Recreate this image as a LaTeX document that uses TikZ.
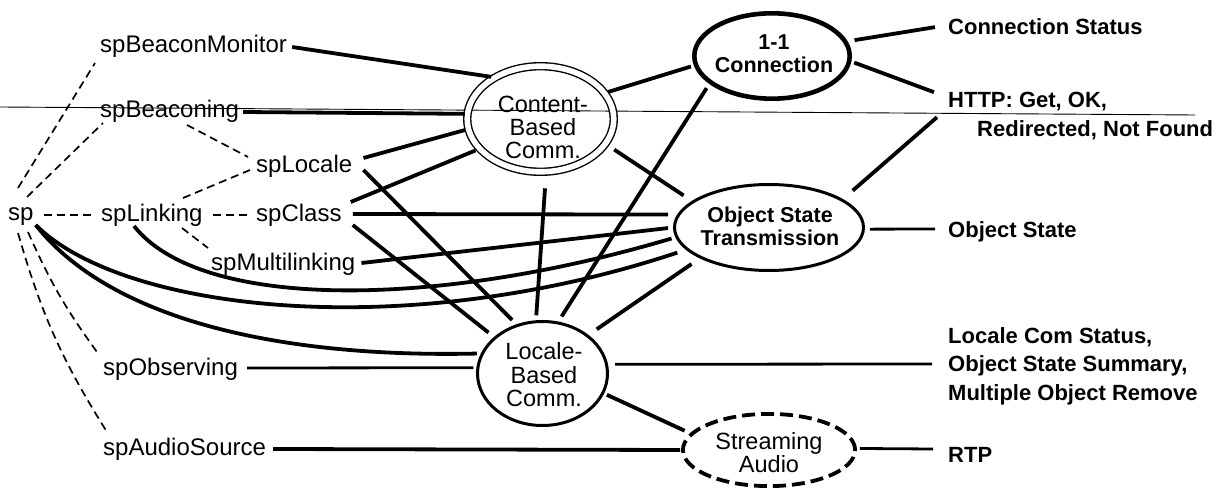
\documentclass[tikz,border=0pt]{standalone}
\usepackage{fontspec}
\setmainfont{Liberation Sans}
\usetikzlibrary{shapes.geometric}
\begin{document}
\begin{tikzpicture}[x=1pt,y=-1pt,
  lbl/.style={inner sep=0pt, anchor=base west, font=\fontsize{24}{28}\selectfont},
  outlbl/.style={inner sep=0pt, font=\bfseries\fontsize{22}{29}\selectfont},
  hubtxt/.style={inner sep=0pt, align=center, font=\fontsize{23.5}{23}\selectfont},
  hubbold/.style={inner sep=0pt, align=center, font=\bfseries\fontsize{21.5}{23}\selectfont},
  hub/.style={ellipse, draw, inner sep=0pt},
  conn/.style={line width=3.8pt},
  connthin/.style={line width=2.8pt},
  dep/.style={line width=1.7pt, dash pattern=on 8pt off 5pt},
]
\useasboundingbox (0,0) rectangle (1218,494);
\fill[white] (0,0) rectangle (1218,494);

% thin rule running across the sheet
\draw[line width=0.9pt] (0,107) -- (1195,115);

% ---- class labels (left)
\node[lbl] (sp)  at (8,221)   {sp};
\node[lbl] (bm)  at (100,53)  {spBeaconMonitor};
\node[lbl] (bg)  at (100,118) {spBeaconing};
\node[lbl] (spl) at (256,173) {spLocale};
\node[lbl] (lk)  at (101,222) {spLinking};
\node[lbl] (cl)  at (256,222) {spClass};
\node[lbl] (ml)  at (211,271) {spMultilinking};
\node[lbl] (ob)  at (103,375) {spObserving};
\node[lbl] (as)  at (103,455) {spAudioSource};

% ---- communication modes (ellipses)
\node[hub, line width=1.4pt, double, double distance=5.6pt,
      minimum width=146.6pt, minimum height=105.6pt] (cb) at (540.5,119) {};
\node[hub, line width=4.6pt, minimum width=155.4pt, minimum height=85.4pt] (oc) at (772,56) {};
\node[hub, line width=3pt, minimum width=189pt, minimum height=86pt] (os) at (769,227.5) {};
\node[hub, line width=3pt, minimum width=130pt, minimum height=104pt] (lb) at (542.5,373.5) {};
\node[hub, line width=3.8pt, dash pattern=on 13pt off 6pt,
      minimum width=172.2pt, minimum height=72.2pt] (sa) at (769,450) {};

\node[hubtxt]  (cbt) at (543,127)   {Content-\\Based\\Comm.};
\node[hubbold] (oct) at (774,53.8)  {1-1\\Connection};
\node[hubbold] (ostt) at (770,226.6) {Object State\\Transmission};
\node[hubtxt, font=\fontsize{23.5}{23.5}\selectfont] (lbt) at (544,375) {Locale-\\Based\\Comm.};
\node[hubtxt]  (sat) at (769,453)   {Streaming\\Audio};

% ---- protocol messages (right)
\node[outlbl, anchor=base west] (cs) at (948,35) {Connection Status};
\node[outlbl, anchor=north west, align=left] (http) at (948,92.2)
  {HTTP: Get, OK,\\\hspace*{29pt}Redirected, Not Found};
\node[outlbl, anchor=base west] (ost) at (948,238) {Object State};
\node[outlbl, anchor=north west, align=left, font=\bfseries\fontsize{22}{28.5}\selectfont] (lcs) at (948,327)
  {Locale Com Status,\\Object State Summary,\\Multiple Object Remove};
\node[outlbl, anchor=base west] (rtp) at (948,462) {RTP};

% ---- class hierarchy (dashed)
\draw[dep] ([shift={(10,-33)}]sp.base west) -- ([shift={(-5,10)}]bm.base west);
\draw[dep] ([shift={(19,-24)}]sp.base west) -- ([shift={(3,5)}]bg.base west);
\draw[dep] ([shift={(10,-6)}]sp.base east) -- ([shift={(-6,-7)}]lk.base west);
\draw[dep] ([shift={(10,-7)}]lk.base east) -- ([shift={(-8,-7)}]cl.base west);
\draw[dep] ([shift={(87,7)}]bg.base west) -- ([shift={(-8,-16)}]spl.base west);
\draw[dep] ([shift={(82,-24)}]lk.base west) -- ([shift={(-6,-3)}]spl.base west);
\draw[dep] ([shift={(81,6)}]lk.base west) -- ([shift={(-3,-23)}]ml.base west);
\draw[dep] ([shift={(20,11)}]sp.base west) to[bend right=6] ([shift={(-6,-23)}]ob.base west);
\draw[dep] ([shift={(10,12)}]sp.base west) to[bend right=8] ([shift={(4,-23)}]as.base west);

% ---- classes to Content-Based
\draw[conn, shorten >=3pt] ([shift={(5,-6)}]bm.base east) -- (cb.138);
\draw[conn, shorten >=2pt] ([shift={(4,-6)}]bg.base east) -- (cb.176);
\draw[conn, shorten >=3pt] ([shift={(11,-15)}]spl.base east) -- (cb.188);
\draw[conn, shorten >=4pt] ([shift={(9,-20)}]cl.base east) -- (cb.206);

% ---- classes to Locale-Based
\draw[conn, shorten >=6pt] ([shift={(11,-3)}]spl.base east) -- (lb.118);
\draw[conn, shorten >=7pt] ([shift={(11,3)}]cl.base east) -- (lb.143);
\draw[conn, shorten >=4pt] ([shift={(2,4)}]sp.base east) .. controls +(75,95) and +(-201,4.5) .. (lb.162);
\draw[connthin, shorten >=3pt] ([shift={(9,-7)}]ob.base east) -- (lb.175);

% ---- classes to Object State Transmission
\draw[conn, shorten >=9pt] ([shift={(11,-8)}]cl.base east) -- (os.172);
\draw[conn, shorten >=5pt] ([shift={(6,-8)}]ml.base east) -- (os.180);
\draw[conn, shorten >=4pt] ([shift={(33,4)}]lk.base west) .. controls +(66,84) and +(-242,72) .. (os.186);
\draw[conn, shorten >=9pt] ([shift={(2,4)}]sp.base east) .. controls +(85,85) and +(-286,95) .. (os.195);

% ---- between modes
\draw[conn, shorten <=10pt, shorten >=10pt] (cb.-21) -- (os.161);
\draw[conn, shorten <=10pt, shorten >=10pt] (lb.40) -- (os.204);
\draw[conn, shorten <=3pt, shorten >=3pt] (cb.22) -- (oc.187);
\draw[conn, shorten <=6pt, shorten >=5pt] (lb.73) -- (oc.204);
\draw[conn, shorten <=16pt, shorten >=5pt] (cb.276) -- (lb.97);
\draw[conn, shorten <=3pt, shorten >=6pt] (lb.-18) -- (sa.168);
\draw[conn, shorten >=1pt] ([shift={(7,-6)}]as.base east) -- (sa.180);

% ---- modes to messages
\draw[conn, shorten <=7pt] (oc.11) -- ([xshift=-13pt]cs.west);
\draw[conn, shorten <=3pt] (oc.-4) -- ([shift={(-14,0)}]http.north west);
\draw[conn, shorten <=13pt] (os.21) -- ([shift={(-11,25)}]http.north west);
\draw[connthin, shorten <=5pt] (os.-1) -- ([shift={(-13,-9)}]ost.base west);
\draw[connthin, shorten <=7pt] (lb.8) -- ([shift={(-16,37)}]lcs.north west);
\draw[connthin, shorten <=3pt] (sa.1) -- ([shift={(-15,-13)}]rtp.base west);
\end{tikzpicture}
\end{document}
